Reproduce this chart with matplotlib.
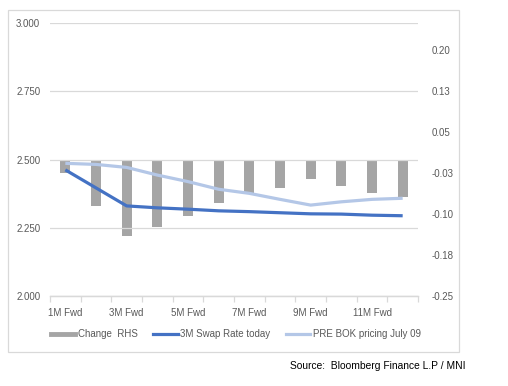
import matplotlib
matplotlib.use("Agg")
from matplotlib import pyplot as plt
from matplotlib.lines import Line2D
from matplotlib.patches import Rectangle
import numpy as np

plt.rcParams['font.family'] = ['Liberation Sans', 'DejaVu Sans']

# 数据
months = ['1M Fwd', '2M Fwd', '3M Fwd', '4M Fwd', '5M Fwd', '6M Fwd',
          '7M Fwd', '8M Fwd', '9M Fwd', '10M Fwd', '11M Fwd', '12M Fwd']
swap_today = [2.462, 2.396, 2.330, 2.323, 2.318, 2.312, 2.309, 2.305, 2.301, 2.300, 2.296, 2.294]
pre_bok = [2.486, 2.482, 2.471, 2.443, 2.419, 2.391, 2.376, 2.354, 2.333, 2.345, 2.354, 2.358]
change_rhs = [-0.025, -0.086, -0.141, -0.123, -0.103, -0.080, -0.064, -0.052, -0.036, -0.048, -0.061, -0.068]

left_ticks = [2.000, 2.250, 2.500, 2.750, 3.000]
left_labels = ['2.000', '2.250', '2.500', '2.750', '3.000']
right_ticks = [-0.25, -0.175, -0.10, -0.025, 0.05, 0.125, 0.20]
right_labels = ['-0.25', '-0.18', '-0.10', '-0.03', '0.05', '0.13', '0.20']

grey_txt = '#595959'
grid_c = '#d9d9d9'

fig = plt.figure(figsize=(5.08, 3.86), dpi=100)
ax = fig.add_axes([50 / 508, 90 / 386, 368 / 508, 273 / 386])
ax2 = ax.twinx()
ax.set_zorder(ax2.get_zorder() + 1)  # 折线在柱子上面
ax.patch.set_visible(False)

x = np.arange(len(months))
ax2.bar(x, change_rhs, width=0.32, color='#a5a5a5')
ax.plot(x, swap_today, color='#4472c4', lw=2.3, solid_capstyle='butt')
ax.plot(x, pre_bok, color='#b4c7e7', lw=2.3, solid_capstyle='butt')

ax.set_xlim(-0.5, len(months) - 0.5)
ax.set_ylim(2.0, 3.0)
ax2.set_ylim(-0.25, 0.25)

ax.set_yticks(left_ticks)
ax.set_yticklabels(left_labels)
ax2.set_yticks(right_ticks)
ax2.set_yticklabels(right_labels)

ax.set_xticks(x[::2])
ax.set_xticklabels(months[::2])
ax.set_xticks(np.arange(-0.5, len(months)), minor=True)

ax.grid(axis='y', color=grid_c, lw=0.9)
ax.tick_params(axis='y', length=0, labelsize=7, labelcolor=grey_txt, pad=7)
ax2.tick_params(axis='y', length=0, labelsize=7, labelcolor=grey_txt, pad=10)
ax.tick_params(axis='x', which='major', length=0, labelsize=7, labelcolor=grey_txt, pad=9)
ax.tick_params(axis='x', which='minor', length=4, color=grid_c, width=0.9)
ax2.tick_params(axis='x', which='both', length=0)

for a in (ax, ax2):
    for s in ['top', 'left', 'right']:
        a.spines[s].set_visible(False)
    a.spines['bottom'].set_color(grid_c)
    a.spines['bottom'].set_linewidth(0.9)

# 图例
handles = [
    Line2D([], [], color='#a5a5a5', lw=3.5),
    Line2D([], [], color='#4472c4', lw=2.3),
    Line2D([], [], color='#b4c7e7', lw=2.3),
]
labels = ['Change  RHS', '3M Swap Rate today', 'PRE BOK pricing July 09']
fig.legend(handles, labels, ncol=3, frameon=False, loc='center',
           bbox_to_anchor=(236 / 508, 1 - 334 / 386), fontsize=7,
           handlelength=2.5, handletextpad=0.3, columnspacing=1.6,
           labelcolor=grey_txt)

# 外框
fig.patches.append(Rectangle((8 / 508, 34 / 386), 451 / 508, 342 / 386,
                             transform=fig.transFigure, fill=False,
                             edgecolor=grid_c, lw=0.9))

fig.text(465 / 508, 1 - 366 / 386, 'Source:  Bloomberg Finance L.P / MNI',
         ha='right', va='center', fontsize=7.4, color='black')

plt.savefig('out.png', dpi=100)
